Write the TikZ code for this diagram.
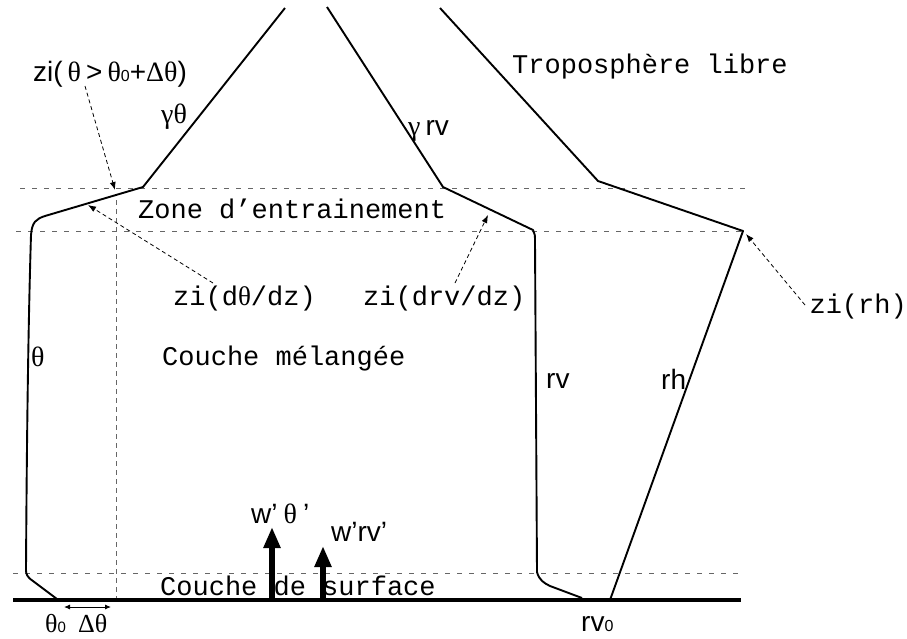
\documentclass[tikz,border=0pt]{standalone}
\usepackage{fontspec}
\setmainfont{Liberation Sans}
\newfontfamily\gk{Liberation Serif}
\newfontfamily\mono{Liberation Mono}
\usetikzlibrary{arrows.meta}
\begin{document}
\begin{tikzpicture}[x=1pt,y=-1pt,
  prof/.style={line width=1.9pt, line join=round},
  level/.style={gray!80!black, line width=0.9pt, dash pattern=on 5pt off 7pt},
  ptr/.style={line width=0.8pt, dash pattern=on 4pt off 3pt, -{Latex[length=8pt,width=6pt]}},
  flux/.style={line width=6pt, -{Triangle[length=21pt,width=16pt]}},
  mtxt/.style={font=\mono\fontsize{27}{30}\selectfont, inner sep=0pt},
  stxt/.style={font=\fontsize{28}{31}\selectfont, inner sep=0pt},
]
\useasboundingbox (0,0) rectangle (907,638);

% level lines
\coordinate (L1a) at (20,188); \coordinate (L1b) at (745,188);
\coordinate (L2a) at (16,231); \coordinate (L2b) at (745,231);
\coordinate (L3a) at (13,573); \coordinate (L3b) at (742,573);
\draw[level] (L1a) -- (L1b);
\draw[level] (L2a) -- (L2b);
\draw[level] (L3a) -- (L3b);
\coordinate (V1) at (116,200); \coordinate (V2) at (116,600);
\draw[level, dash pattern=on 5pt off 4pt] (V1) -- (V2);

% ground
\coordinate (G1) at (13,600); \coordinate (G2) at (741,600);
\draw[line width=4pt] (G1) -- (G2);

% theta profile
\coordinate (t0) at (57,599); \coordinate (t1) at (33,581);
\coordinate (t2) at (26,570); \coordinate (t3) at (31,235);
\coordinate (t4) at (45,216); \coordinate (t5) at (143,187);
\coordinate (t6) at (285,8);
\draw[prof] (t0) -- (t1) .. controls (27,577) and (26,574) .. (t2)
  .. controls (27,400) and (29,300) .. (t3)
  .. controls (32,222) and (36,219) .. (t4) -- (t5) -- (t6);

% rv profile
\coordinate (r0) at (327,7); \coordinate (r1) at (443,187);
\coordinate (r2) at (533,230); \coordinate (r3) at (535,242);
\coordinate (r4) at (537,572); \coordinate (r5) at (550,586);
\coordinate (r6) at (582,598);
\draw[prof] (r0) -- (r1) -- (r2) .. controls (535,233) and (535,236) .. (r3)
  -- (r4) .. controls (539,580) and (544,583) .. (r5) -- (r6);

% rh profile
\coordinate (h0) at (440,8); \coordinate (h1) at (598,181);
\coordinate (h2) at (743,231); \coordinate (h3) at (610,600);
\draw[prof] (h0) -- (h1) -- (h2) -- (h3);

% text labels
\node[mtxt, anchor=base west] (trop) at (512,73) {Troposphère libre};
\node[mtxt, anchor=base west] (zone) at (138,218) {Zone d’entrainement};
\node[mtxt, anchor=base west] (mel) at (162,365) {Couche mélangée};
\node[mtxt, anchor=base west] (surf) at (160,595) {Couche de surface};
\node[mtxt, anchor=base west] (zdth) at (173,305) {zi(d{\gk θ}/dz)};
\node[mtxt, anchor=base west] (zdrv) at (363,305) {zi(drv/dz)};
\node[mtxt, anchor=base east] (zrh) at (907,313) {zi(rh)};

\node[stxt, anchor=base west] (zth) at (33,81)
  {zi(\hspace{5pt}{\gk θ}\hspace{5pt}>\hspace{5pt}{\gk θ}{\fontsize{16}{16}\selectfont 0}+{\gk Δθ})};
\node[stxt, anchor=base west] (gth) at (161,123) {{\gk γθ}};
\node[stxt, anchor=base west] (grv) at (408,135) {{\gk γ}\hspace{5pt}rv};
\node[stxt, anchor=base west] (lth) at (31,366) {{\gk θ}};
\node[stxt, anchor=base west] (lrv) at (546,388) {rv};
\node[stxt, anchor=base west] (lrh) at (661,389) {rh};
\node[stxt, anchor=base west] (wth) at (251,523) {w'\hspace{6pt}{\gk θ}\hspace{6pt}'};
\node[stxt, anchor=base west] (wrv) at (331,541) {w'rv'};
\node[stxt, anchor=base west, font=\fontsize{26}{29}\selectfont] (th0) at (45,632) {{\gk θ}{\fontsize{15}{15}\selectfont 0}};
\node[stxt, anchor=base west, font=\fontsize{26}{29}\selectfont] (dth) at (78,632) {{\gk Δθ}};
\node[stxt, anchor=base west] (rv0) at (581,631) {rv{\fontsize{16}{16}\selectfont 0}};

% pointer arrows
\coordinate (a1s) at (85,86);  \coordinate (a1e) at (115,190);
\coordinate (a2s) at (213,283); \coordinate (a2e) at (88,205);
\coordinate (a3s) at (455,283); \coordinate (a3e) at (488,215);
\coordinate (a4s) at (805,305); \coordinate (a4e) at (746,234);
\draw[ptr] (a1s) -- (a1e);
\draw[ptr] (a2s) -- (a2e);
\draw[ptr] (a3s) -- (a3e);
\draw[ptr] (a4s) -- (a4e);

% delta theta
\coordinate (d1) at (64,607); \coordinate (d2) at (111,607);
\draw[line width=0.9pt, {Latex[length=6pt,width=5pt]}-{Latex[length=6pt,width=5pt]}] (d1) -- (d2);

% fluxes
\coordinate (f1s) at (272,600); \coordinate (f1e) at (272,527);
\coordinate (f2s) at (323,600); \coordinate (f2e) at (323,546);
\draw[flux] (f1s) -- (f1e);
\draw[flux] (f2s) -- (f2e);
\end{tikzpicture}
\end{document}
